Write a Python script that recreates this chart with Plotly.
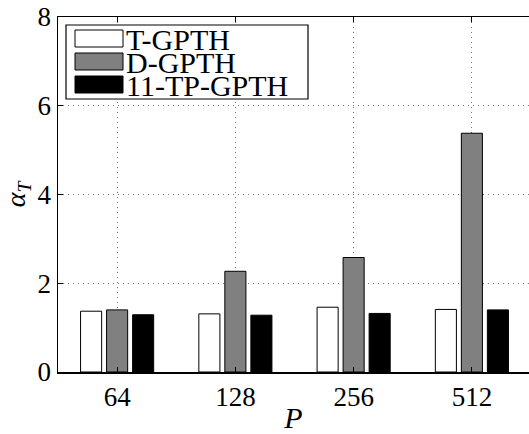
import plotly.graph_objects as go

categories = ["64", "128", "256", "512"]
series_names = ["T-GPTH", "D-GPTH", "11-TP-GPTH"]
t_gpth = [1.37, 1.31, 1.46, 1.41]
d_gpth = [1.40, 2.27, 2.58, 5.38]
tp_gpth = [1.29, 1.28, 1.32, 1.40]
y_ticks = [0, 2, 4, 6, 8]

colors = ["#ffffff", "#808080", "#000000"]
FONT = "Liberation Serif"

W, H = 529, 434
L, R, T, B = 58, 0, 17, 62
pw, ph = W - L - R, H - T - B

fig = go.Figure()
for name, vals, c in zip(series_names, [t_gpth, d_gpth, tp_gpth], colors):
    fig.add_trace(go.Bar(x=categories, y=vals, name=name, marker=dict(color=c, line=dict(color="#000000", width=1)),
                         showlegend=False, hoverinfo="skip"))

def px_x(x):
    return (x - L) / pw

def px_y(y):
    return (H - B - y) / ph

shapes = []
annotations = []
# legend box
shapes.append(dict(type="rect", xref="paper", yref="paper", x0=px_x(66), x1=px_x(308), y0=px_y(99), y1=px_y(25),
                   fillcolor="white", line=dict(color="black", width=1.2), layer="above"))
row_centers = [38.5, 61.5, 84.5]
for name, c, yc in zip(series_names, colors, row_centers):
    shapes.append(dict(type="rect", xref="paper", yref="paper", x0=px_x(75), x1=px_x(123), y0=px_y(yc + 8.5), y1=px_y(yc - 8.5),
                       fillcolor=c, line=dict(color="black", width=1), layer="above"))
    annotations.append(dict(xref="paper", yref="paper", x=px_x(124), y=px_y(yc + 1), text=name, showarrow=False,
                            xanchor="left", yanchor="middle", font=dict(family=FONT, size=30, color="black")))

fig.update_layout(
    width=W, height=H,
    margin=dict(l=L, r=R, t=T, b=B),
    paper_bgcolor="white", plot_bgcolor="white",
    barmode="group", bargap=0.34, bargroupgap=0.19,
    font=dict(family=FONT, size=27, color="black"),
    shapes=shapes, annotations=annotations,
    xaxis=dict(type="category", range=[-0.5, 3.483], showline=True, linecolor="black", linewidth=1.5, mirror="ticks",
               ticks="inside", ticklen=5, tickcolor="black",
               showgrid=True, gridcolor="#777777", griddash="1px,4px", gridwidth=1,
               title=dict(text="<i>P</i>", font=dict(family=FONT, size=30), standoff=0),
               tickfont=dict(family=FONT, size=27)),
    yaxis=dict(range=[0, 8], tickvals=y_ticks, showline=True, linecolor="black", linewidth=1.5,
               ticks="inside", ticklen=5, tickcolor="black",
               showgrid=True, gridcolor="#777777", griddash="1px,4px", gridwidth=1, zeroline=False,
               title=dict(text="<i>α</i><sub><i>T</i></sub>", font=dict(family=FONT, size=28), standoff=6),
               tickfont=dict(family=FONT, size=27)),
)

fig.write_html("out.html", config={"displayModeBar": False, "staticPlot": True},
               post_script="document.body.style.margin='0';document.body.style.overflow='hidden';")
